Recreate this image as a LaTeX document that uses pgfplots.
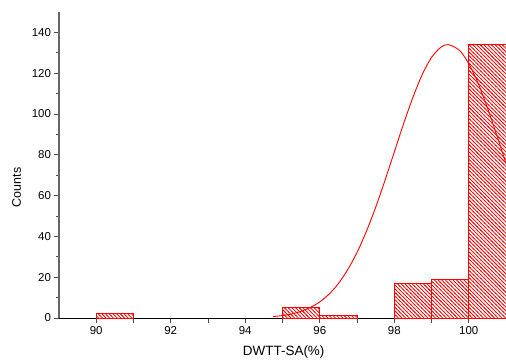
\documentclass[border=0pt]{standalone}
\usepackage{fontspec}
\setmainfont{Liberation Sans}
\usepackage{pgfplots}
\pgfplotsset{compat=1.18}
\usetikzlibrary{patterns}
\pgfdeclarepatternformonly{redhatch}{\pgfpoint{-1bp}{-1bp}}{\pgfpoint{4.7bp}{4.7bp}}{\pgfpoint{3.7bp}{3.7bp}}{%
  \pgfsetlinewidth{0.75bp}%
  \pgfpathmoveto{\pgfpoint{-0.6bp}{4.3bp}}%
  \pgfpathlineto{\pgfpoint{4.3bp}{-0.6bp}}%
  \pgfusepath{stroke}%
}
\pgfplotstableread{
x y
90.5 2
95.5 5
96.5 1
98.5 17
99.5 19
100.5 134
}\bars
\begin{document}
\begin{tikzpicture}
\path[use as bounding box] (-59bp,-42bp) rectangle (447bp,318bp);
\begin{axis}[
  at={(0,0)}, anchor=south west,
  scale only axis, width=447bp, height=306bp,
  xmin=89, xmax=101, ymin=0, ymax=150,
  axis lines=left, axis line style={-},
  x axis line style={draw=black, line width=0.8bp},
  y axis line style={draw=black!60, line width=1.2bp},
  xtick={90,...,100}, xticklabels={90,,92,,94,,96,,98,,100},
  ytick={0,20,...,140}, minor ytick={10,30,...,130},
  tick align=outside,
  major tick length=4.5bp, minor tick length=2.5bp,
  tick style={draw=black!70, line width=0.7bp},
  ticklabel style={font=\fontsize{11.5}{13}\selectfont},
  /pgf/number format/assume math mode=true,
  xlabel={DWTT-SA(\%)}, ylabel={Counts},
  xlabel style={font=\fontsize{13.5}{15}\selectfont, at={(axis description cs:0.5027,-0.111)}, anchor=center},
  ylabel style={font=\fontsize{12.5}{14}\selectfont, at={(axis description cs:-0.0951,0.4265)}, anchor=center},
]
\addplot[ybar, bar width=1, bar shift=0pt, draw=none,
  pattern=redhatch, pattern color=red] table[x=x,y=y] {\bars};
\addplot[ybar, bar width=1, bar shift=0pt, draw=red, fill=none, line width=1bp]
  table[x=x,y=y] {\bars};
\addplot[red, line width=0.9bp, smooth, mark=none] coordinates {
(94.75,0.7) (95.0,1.2) (95.25,2.0) (95.5,3.3) (95.75,5.2) (96.0,7.9)
(96.25,11.7) (96.5,16.9) (96.75,23.7) (97.0,32.1) (97.25,42.4) (97.5,54.2)
(97.75,67.4) (98.0,81.3) (98.25,95.2) (98.5,108.1) (98.75,119.3) (99.0,127.7)
(99.25,132.7) (99.45,134.0) (99.75,131.2) (100.0,124.7) (100.25,115.1)
(100.5,103.1) (100.75,89.7) (101.0,75.7)};
\end{axis}
\end{tikzpicture}
\end{document}
